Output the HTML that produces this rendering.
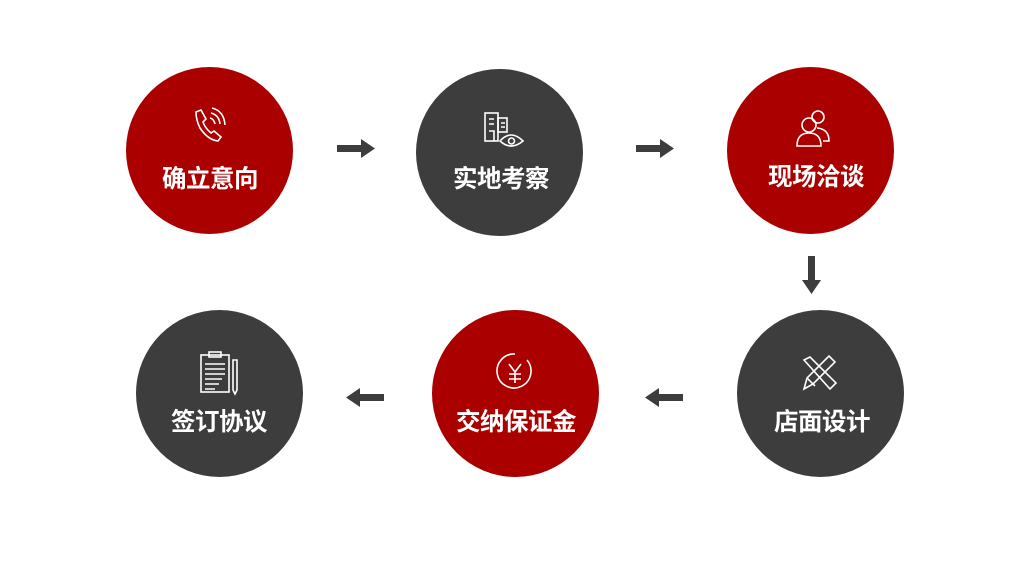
<!DOCTYPE html>
<html><head><meta charset="utf-8"><style>
body{margin:0;width:1023px;height:564px;background:#fff;position:relative;overflow:hidden;font-family:"Liberation Sans","Noto Sans CJK SC",sans-serif}
.c{position:absolute;width:167px;height:167px;border-radius:50%;}
.r{background:#AA0000}.d{background:#3D3D3D}
.t{position:absolute;width:200px;text-align:center;color:#fff;font-weight:bold;font-size:24.5px;line-height:30px;letter-spacing:-0.5px}
svg.i{position:absolute}
</style></head><body>
<div class="c r" style="left:126px;top:67px"></div>
<div class="c d" style="left:416px;top:69px"></div>
<div class="c r" style="left:727px;top:67px"></div>
<div class="c d" style="left:136px;top:310px"></div>
<div class="c r" style="left:432px;top:310px"></div>
<div class="c d" style="left:737px;top:310px"></div>

<div class="t" style="left:110px;top:165px">确立意向</div>
<div class="t" style="left:401px;top:165px">实地考察</div>
<div class="t" style="left:716px;top:163px">现场洽谈</div>
<div class="t" style="left:119px;top:408px">签订协议</div>
<div class="t" style="left:416px;top:408px">交纳保证金</div>
<div class="t" style="left:722px;top:408px">店面设计</div>

<svg width="1023" height="564" style="position:absolute;left:0;top:0">
<g fill="#3D3D3D">
<rect x="337" y="145" width="26" height="7"/><polygon points="361,139 375,148.5 361,158"/>
<rect x="636" y="145" width="26" height="7"/><polygon points="660,139 674,148.5 660,158"/>
<rect x="808" y="256" width="7" height="26"/><polygon points="802,280 821,280 811.5,294"/>
<rect x="358" y="394" width="26" height="7"/><polygon points="360,388 346,397.5 360,407"/>
<rect x="657" y="394" width="26" height="7"/><polygon points="659,388 645,397.5 659,407"/>
</g>
<g fill="none" stroke="#fff" stroke-width="1.6">
<path d="M196 112 l5 -2 l5 9 l-3 3 q2 6 8 11 l3 -2 l7 6 l-3 4 q-10 -1 -18 -13 q-4 -8 -4 -16z"/>
<path d="M210 118 q4 1 5 6 M211 113 q8 2 9 11 M212 108 q12 3 13 17"/>
<rect x="485" y="113" width="13" height="28"/><rect x="498" y="118" width="9" height="14"/>
<path d="M489 119h5M489 124h5M489 131h5v10M501 123h4M501 127h4"/>
<path d="M500 141 q11 -12 23 0 q-12 10 -23 0z"/><circle cx="511.5" cy="141" r="3"/>
<circle cx="818" cy="117" r="6"/><circle cx="809" cy="125" r="7"/>
<path d="M797 146 q0 -13 12 -13 q12 0 12 13z"/><path d="M817 128 q12 1 12 13 h-6"/>
<rect x="201" y="355" width="28" height="37"/><rect x="209" y="352" width="12" height="5"/>
<path d="M205 364h20M205 369h20M205 374h20M205 379h17M205 384h14M205 389h10"/>
<path d="M233 360v30l2 4 2 -4v-30z"/>
<path d="M527 360 a17 17 0 1 1 -12 -6"/>
<path d="M509 364l6 8 6 -8M515 372v11M509 374h12M509 379h12"/>
<path d="M804 360 l6 -3 l26 26 l-3 3 l-3 3z"/><path d="M804 389 l3 -11 l22 -22 l6 6 l-22 22z M807 378 l8 8"/>
</g>
</svg>
</body></html>
